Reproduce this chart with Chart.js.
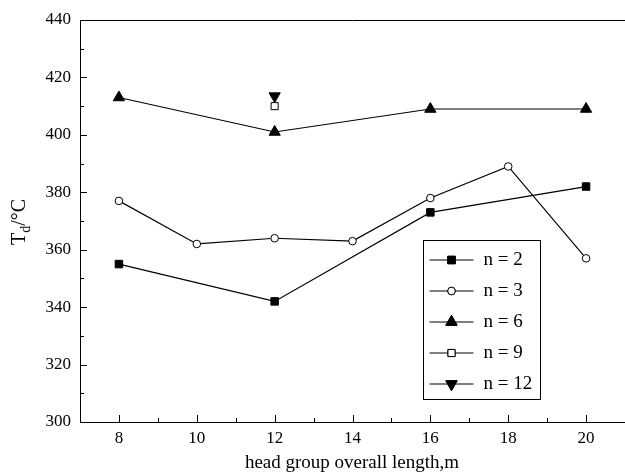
<!DOCTYPE html>
<html>
<head>
<meta charset="utf-8">
<script src="https://cdn.jsdelivr.net/npm/chart.js@4"></script>
<style>
  html, body { margin: 0; padding: 0; background: #fff; overflow: hidden; }
  #tdChart { display: block; }
</style>
</head>
<body>
<canvas id="tdChart" width="625" height="472"></canvas>
<script>
// values
const xTicks = [8, 10, 12, 14, 16, 18, 20];
const n2 = [{x: 8, y: 355}, {x: 12, y: 342}, {x: 16, y: 373}, {x: 20, y: 382}];
const n3 = [{x: 8, y: 377}, {x: 10, y: 362}, {x: 12, y: 364}, {x: 14, y: 363}, {x: 16, y: 378}, {x: 18, y: 389}, {x: 20, y: 357}];
const n6 = [{x: 8, y: 413}, {x: 12, y: 401}, {x: 16, y: 409}, {x: 20, y: 409}];
const n9 = [{x: 12, y: 410}];
const n12 = [{x: 12, y: 413.5}];
const seriesLabels = ['n = 2', 'n = 3', 'n = 6', 'n = 9', 'n = 12'];

const FONT = "'Liberation Serif', 'DejaVu Serif', serif";

function ds(label, data, style, radius, fill, rot) {
  return {
    label: label,
    data: data,
    borderColor: '#000',
    borderWidth: 1.2,
    pointStyle: style,
    pointRadius: radius,
    pointHoverRadius: radius,
    pointRotation: rot || 0,
    pointBackgroundColor: fill,
    pointBorderColor: '#000',
    pointBorderWidth: 1,
    fill: false,
    tension: 0
  };
}

const datasets = [
  ds(seriesLabels[0], n2, 'rect', 5.3, '#000'),
  ds(seriesLabels[1], n3, 'circle', 3.8, '#fff'),
  ds(seriesLabels[2], n6, 'triangle', 6.5, '#000'),
  ds(seriesLabels[3], n9, 'rect', 5, '#fff'),
  ds(seriesLabels[4], n12, 'triangle', 6.5, '#000', 180)
];

// inward ticks, top frame line, axis titles and the boxed legend
const decor = {
  id: 'decor',
  afterDraw(chart) {
    const ctx = chart.ctx;
    const a = chart.chartArea;
    const xs = chart.scales.x, ys = chart.scales.y;
    ctx.save();
    ctx.strokeStyle = '#000';
    ctx.lineWidth = 1;
    ctx.beginPath();
    ctx.moveTo(a.left, a.top + 0.5);
    ctx.lineTo(a.right, a.top + 0.5);
    for (let v = 7; v <= 21; v++) {
      const px = Math.round(xs.getPixelForValue(v)) + 0.5;
      const len = v % 2 === 0 ? 7 : 4;
      ctx.moveTo(px, a.bottom);
      ctx.lineTo(px, a.bottom - len);
    }
    for (let v = 300; v <= 440; v += 10) {
      const py = Math.round(ys.getPixelForValue(v)) + 0.5;
      const len = v % 20 === 0 ? 7 : 4;
      ctx.moveTo(a.left, py);
      ctx.lineTo(a.left + len, py);
    }
    ctx.stroke();

    // x title
    ctx.fillStyle = '#000';
    ctx.font = '19px ' + FONT;
    ctx.textAlign = 'center';
    ctx.textBaseline = 'alphabetic';
    ctx.fillText('head group overall length,m', 352, 468);

    // y title with subscript
    ctx.save();
    ctx.translate(25, 222);
    ctx.rotate(-Math.PI / 2);
    const big = '20px ' + FONT, small = '14px ' + FONT;
    ctx.font = big;
    const wT = ctx.measureText('T').width;
    const wRest = ctx.measureText('/\u00B0C').width;
    ctx.font = small;
    const wd = ctx.measureText('d').width;
    let x0 = -(wT + wd + wRest) / 2;
    ctx.textAlign = 'left';
    ctx.font = big;
    ctx.fillText('T', x0, 0);
    ctx.font = small;
    ctx.fillText('d', x0 + wT, 5);
    ctx.font = big;
    ctx.fillText('/\u00B0C', x0 + wT + wd, 0);
    ctx.restore();

    // legend box
    const bx = 423.5, by = 240.5, bw = 117, bh = 159;
    ctx.strokeRect(bx, by, bw, bh);
    ctx.font = '19px ' + FONT;
    ctx.textAlign = 'left';
    ctx.textBaseline = 'middle';
    chart.data.datasets.forEach((d, i) => {
      const cy = by + 19 + i * 31;
      ctx.beginPath();
      ctx.moveTo(bx + 6, cy + 0.5);
      ctx.lineTo(bx + 50, cy + 0.5);
      ctx.stroke();
      ctx.fillStyle = d.pointBackgroundColor;
      Chart.helpers.drawPoint(ctx, {
        pointStyle: d.pointStyle,
        radius: d.pointRadius,
        rotation: d.pointRotation,
        borderWidth: 1
      }, bx + 28, cy + 0.5);
      ctx.fill();
      ctx.stroke();
      ctx.fillStyle = '#000';
      ctx.fillText(d.label, bx + 60, cy + 1);
    });
    ctx.restore();
  }
};

new Chart(document.getElementById('tdChart').getContext('2d'), {
  type: 'line',
  data: { datasets: datasets },
  options: {
    responsive: false,
    animation: false,
    layout: { autoPadding: false, padding: { top: 20, right: 0, left: 0, bottom: 0 } },
    plugins: {
      legend: { display: false },
      tooltip: { enabled: false }
    },
    scales: {
      x: {
        type: 'linear',
        min: 7,
        max: 21,
        afterBuildTicks: s => { s.ticks = xTicks.map(v => ({ value: v })); },
        afterFit: s => { s.height = 50; s.paddingLeft = 0; s.paddingRight = 0; },
        grid: { display: false, drawTicks: false },
        border: { display: true, color: '#000', width: 1 },
        ticks: { color: '#000', padding: 6, font: { family: FONT, size: 17 } }
      },
      y: {
        min: 300,
        max: 440,
        afterFit: s => { s.width = 80; s.paddingTop = 0; s.paddingBottom = 0; },
        grid: { display: false, drawTicks: false },
        border: { display: true, color: '#000', width: 1 },
        ticks: { stepSize: 20, color: '#000', padding: 9, font: { family: FONT, size: 17 } }
      }
    }
  },
  plugins: [decor]
});
</script>
</body>
</html>
